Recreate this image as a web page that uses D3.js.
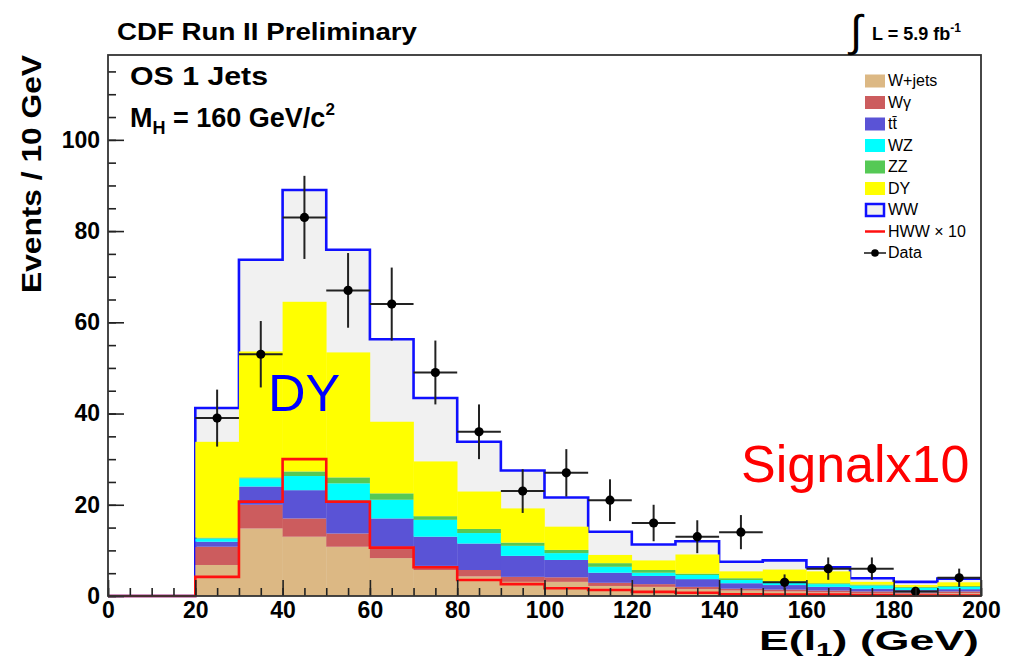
<!DOCTYPE html>
<html>
<head>
<meta charset="utf-8">
<script src="https://cdn.jsdelivr.net/npm/d3@7"></script>
<style>
  html, body { margin: 0; padding: 0; background: #fff; }
  svg { display: block; }
  text { font-family: "Liberation Sans", Arial, Helvetica, sans-serif; }
</style>
</head>
<body>
<svg id="chart" width="1011" height="660"></svg>
<script>
// Bin lower edges (GeV), 10 GeV bins from 0 to 200
const binEdges = [0,10,20,30,40,50,60,70,80,90,100,110,120,130,140,150,160,170,180,190];

// Background contributions per bin (events), stacked bottom to top
const wjets = [0,0,6.8,14.8,13.0,10.8,8.3,5.7,4.3,3.1,3.1,2.2,2.0,1.5,1.2,1.0,0.8,0.6,0.5,0.6];
const wgamma = [0,0,4.0,5.2,4.0,2.9,2.5,0.9,1.4,1.1,1.0,0.7,0.6,0.5,0.4,0.4,0.4,0.4,0.3,0.4];
const ttbar = [0,0,1.1,4.0,6.2,7.0,6.2,6.4,5.8,4.6,3.8,2.2,1.8,1.7,1.2,1.0,0.8,0.6,0.5,0.5];
const wz = [0,0,0.7,1.8,3.1,4.0,4.1,3.7,2.3,2.2,1.5,1.3,0.7,0.9,0.7,0.6,0.6,0.7,0.5,0.5];
const zz = [0,0,0.2,0.2,1.0,1.3,1.4,0.8,0.9,0.7,0.7,0.8,0.6,0.3,0.4,0.2,0.2,0.2,0.2,0.2];
const dy = [0,0,21.0,27.6,37.2,27.4,15.7,12.0,8.2,7.5,5.1,1.8,2.1,4.2,1.5,2.6,2.6,0.6,0.4,0.8];
const ww = [0,0,7.4,20.1,24.5,22.5,18.1,13.9,10.9,8.3,6.4,5.1,3.5,2.9,2.1,2.0,0.9,0.8,0.7,0.8];

// Higgs signal (M_H = 160) scaled by 10
const hwwX10 = [0,0,4.2,20.7,30.0,20.7,10.6,6.3,3.5,2.6,1.7,1.3,0.9,0.7,0.4,0.3,0.3,0.2,0.1,0.1];

// Observed events per bin
const dataCounts = [0,0,39,53,83,67,64,49,36,23,27,21,16,13,14,3,6,6,1,4];

const xTickValues = [0,20,40,60,80,100,120,140,160,180,200];
const yTickValues = [0,20,40,60,80,100];

const processes = [
  { key: "wjets",  label: "W+jets", color: "#dcb884", values: wjets },
  { key: "wgamma", label: "Wγ",     color: "#cc5c5e", values: wgamma },
  { key: "ttbar",  label: "tt̄",     color: "#5a53d6", values: ttbar },
  { key: "wz",     label: "WZ",     color: "#00ffff", values: wz },
  { key: "zz",     label: "ZZ",     color: "#55c955", values: zz },
  { key: "dy",     label: "DY",     color: "#ffff00", values: dy },
  { key: "ww",     label: "WW",     color: "#f1f1f1", values: ww }
];

const binWidth = 10;
const svg = d3.select("#chart");
const plotLeft = 108, plotRight = 981, plotTop = 55, plotBottom = 596;

const x = d3.scaleLinear().domain([0, 200]).range([plotLeft, plotRight]);
const y = d3.scaleLinear().domain([0, 118.6]).range([plotBottom, plotTop]);

// Stack the background processes
const rows = binEdges.map((e, i) => {
  const r = { edge: e };
  processes.forEach(p => { r[p.key] = p.values[i]; });
  return r;
});
const stacked = d3.stack().keys(processes.map(p => p.key))(rows);

const plot = svg.append("g");

// Total background (WW on top): grey fill with blue outline, drawn first
const totalLayer = stacked[stacked.length - 1];
const stepTotal = [];
totalLayer.forEach((d, i) => {
  stepTotal.push([binEdges[i], d[1]]);
  stepTotal.push([binEdges[i] + binWidth, d[1]]);
});
const area = d3.area().x(d => x(d[0])).y0(y(0)).y1(d => y(d[1]));
const line = d3.line().x(d => x(d[0])).y(d => y(d[1]));
plot.append("path").attr("d", area(stepTotal)).attr("fill", "#f1f1f1");
plot.append("path").attr("d", line(stepTotal))
  .attr("fill", "none").attr("stroke", "#1010ff").attr("stroke-width", 2.6);

// Lower layers drawn over the total
stacked.slice(0, -1).forEach((layer, li) => {
  plot.append("g").selectAll("rect")
    .data(layer)
    .join("rect")
    .attr("x", (d, i) => x(binEdges[i]))
    .attr("width", x(binWidth) - x(0) + 0.3)
    .attr("y", d => y(d[1]))
    .attr("height", d => Math.max(0, y(d[0]) - y(d[1])))
    .attr("fill", processes[li].color);
});

// Signal x10 as red step line
const sigSteps = [];
hwwX10.forEach((v, i) => {
  sigSteps.push([binEdges[i], v]);
  sigSteps.push([binEdges[i] + binWidth, v]);
});
plot.append("path").attr("d", line(sigSteps))
  .attr("fill", "none").attr("stroke", "#ff1010").attr("stroke-width", 2.6);

// Data with Poisson error bars
const dataPts = dataCounts.map((n, i) => ({ c: binEdges[i] + binWidth / 2, lo: binEdges[i], hi: binEdges[i] + binWidth, n }))
  .filter(d => d.n > 0);
const dg = plot.append("g");
dg.selectAll("line.h").data(dataPts).join("line")
  .attr("x1", d => x(d.lo)).attr("x2", d => x(d.hi))
  .attr("y1", d => y(d.n)).attr("y2", d => y(d.n))
  .attr("stroke", "#222").attr("stroke-width", 2);
dg.selectAll("line.v").data(dataPts).join("line")
  .attr("x1", d => x(d.c)).attr("x2", d => x(d.c))
  .attr("y1", d => y(Math.max(0, d.n - Math.sqrt(d.n)))).attr("y2", d => y(d.n + Math.sqrt(d.n)))
  .attr("stroke", "#222").attr("stroke-width", 2);
dg.selectAll("circle").data(dataPts).join("circle")
  .attr("cx", d => x(d.c)).attr("cy", d => y(d.n)).attr("r", 4.6)
  .attr("fill", "#000");

// Axes: inward ticks, major every 20, minor every 5
const tickFont = g => g.selectAll("text")
  .attr("font-size", 23).attr("font-weight", "bold").attr("fill", "#000")
  .attr("font-family", "Liberation Sans, Arial, sans-serif");

svg.append("g").attr("transform", `translate(0,${plotBottom})`)
  .call(d3.axisBottom(x).tickValues(d3.range(0, 201, 5)).tickSize(-8).tickFormat(""))
  .call(g => g.select(".domain").remove())
  .call(g => g.selectAll("line").attr("stroke", "#222").attr("stroke-width", 1.6));
svg.append("g").attr("transform", `translate(0,${plotBottom})`)
  .call(d3.axisBottom(x).tickValues(xTickValues).tickSize(-16).tickPadding(6).tickFormat(d3.format("d")))
  .call(g => g.select(".domain").remove())
  .call(g => g.selectAll("line").attr("stroke", "#222").attr("stroke-width", 1.6))
  .call(tickFont);

svg.append("g").attr("transform", `translate(${plotLeft},0)`)
  .call(d3.axisLeft(y).tickValues(d3.range(0, 118, 5)).tickSize(-8).tickFormat(""))
  .call(g => g.select(".domain").remove())
  .call(g => g.selectAll("line").attr("stroke", "#222").attr("stroke-width", 1.6));
svg.append("g").attr("transform", `translate(${plotLeft},0)`)
  .call(d3.axisLeft(y).tickValues(yTickValues).tickSize(-16).tickPadding(8).tickFormat(d3.format("d")))
  .call(g => g.select(".domain").remove())
  .call(g => g.selectAll("line").attr("stroke", "#222").attr("stroke-width", 1.6))
  .call(tickFont);

// Frame
svg.append("rect").attr("x", plotLeft).attr("y", plotTop)
  .attr("width", plotRight - plotLeft).attr("height", plotBottom - plotTop)
  .attr("fill", "none").attr("stroke", "#333").attr("stroke-width", 1.8);

// Axis titles
svg.append("text")
  .attr("transform", `translate(41,${plotTop}) rotate(-90)`)
  .attr("text-anchor", "end").attr("font-size", 28).attr("font-weight", "bold")
  .attr("textLength", 238).attr("lengthAdjust", "spacingAndGlyphs")
  .text("Events / 10 GeV");

const xt = svg.append("text").attr("x", plotRight - 2).attr("y", 650)
  .attr("text-anchor", "end").attr("font-size", 27).attr("font-weight", "bold")
  .attr("textLength", 220).attr("lengthAdjust", "spacingAndGlyphs");
xt.append("tspan").text("E(l");
xt.append("tspan").attr("font-size", 18).attr("dy", 6).text("1");
xt.append("tspan").attr("dy", -6).text(") (GeV)");

// Header texts
svg.append("text").attr("x", 117).attr("y", 40)
  .attr("font-size", 23).attr("font-weight", "bold")
  .attr("textLength", 300).attr("lengthAdjust", "spacingAndGlyphs")
  .text("CDF Run II Preliminary");

svg.append("text").attr("x", 850).attr("y", 46)
  .attr("font-size", 44).attr("font-family", "DejaVu Sans, sans-serif")
  .text("∫");
const lum = svg.append("text").attr("x", 872).attr("y", 40)
  .attr("font-size", 18).attr("font-weight", "bold");
lum.append("tspan").text("L = 5.9 fb");
lum.append("tspan").attr("font-size", 12).attr("dy", -8).text("-1");

svg.append("text").attr("x", 130).attr("y", 85)
  .attr("font-size", 25).attr("font-weight", "bold")
  .attr("textLength", 138).attr("lengthAdjust", "spacingAndGlyphs")
  .text("OS 1 Jets");

const mh = svg.append("text").attr("x", 130).attr("y", 127)
  .attr("font-size", 27).attr("font-weight", "bold");
mh.append("tspan").text("M");
mh.append("tspan").attr("font-size", 18).attr("dy", 7).text("H");
mh.append("tspan").attr("dy", -7).text(" = 160 GeV/c");
mh.append("tspan").attr("font-size", 17).attr("dy", -12).text("2");

// Annotations
svg.append("text").attr("x", 268).attr("y", 411)
  .attr("font-size", 52).attr("fill", "#0000ff").text("DY");
svg.append("text").attr("x", 741).attr("y", 482)
  .attr("font-size", 52).attr("fill", "#ff0000").text("Signalx10");

// Legend
const legendRows = [
  ...processes.slice(0, 6).map(p => ({ type: "fill", label: p.label, color: p.color })),
  { type: "ww", label: "WW" },
  { type: "line", label: "HWW × 10" },
  { type: "data", label: "Data" }
];
const lg = svg.append("g");
legendRows.forEach((r, i) => {
  const cy = 81 + i * 21.5;
  const g = lg.append("g");
  if (r.type === "fill") {
    g.append("rect").attr("x", 865).attr("y", cy - 6.5).attr("width", 20).attr("height", 13).attr("fill", r.color);
  } else if (r.type === "ww") {
    g.append("rect").attr("x", 866).attr("y", cy - 6).attr("width", 18).attr("height", 12)
      .attr("fill", "#f1f1f1").attr("stroke", "#1010ff").attr("stroke-width", 2.5);
  } else if (r.type === "line") {
    g.append("line").attr("x1", 865).attr("x2", 885).attr("y1", cy).attr("y2", cy)
      .attr("stroke", "#ff1010").attr("stroke-width", 2.5);
  } else {
    g.append("line").attr("x1", 864).attr("x2", 886).attr("y1", cy).attr("y2", cy)
      .attr("stroke", "#222").attr("stroke-width", 1.6);
    g.append("circle").attr("cx", 875).attr("cy", cy).attr("r", 3.8).attr("fill", "#000");
  }
  g.append("text").attr("x", 888).attr("y", cy + 5).attr("font-size", 16).text(r.label);
});
</script>
</body>
</html>
